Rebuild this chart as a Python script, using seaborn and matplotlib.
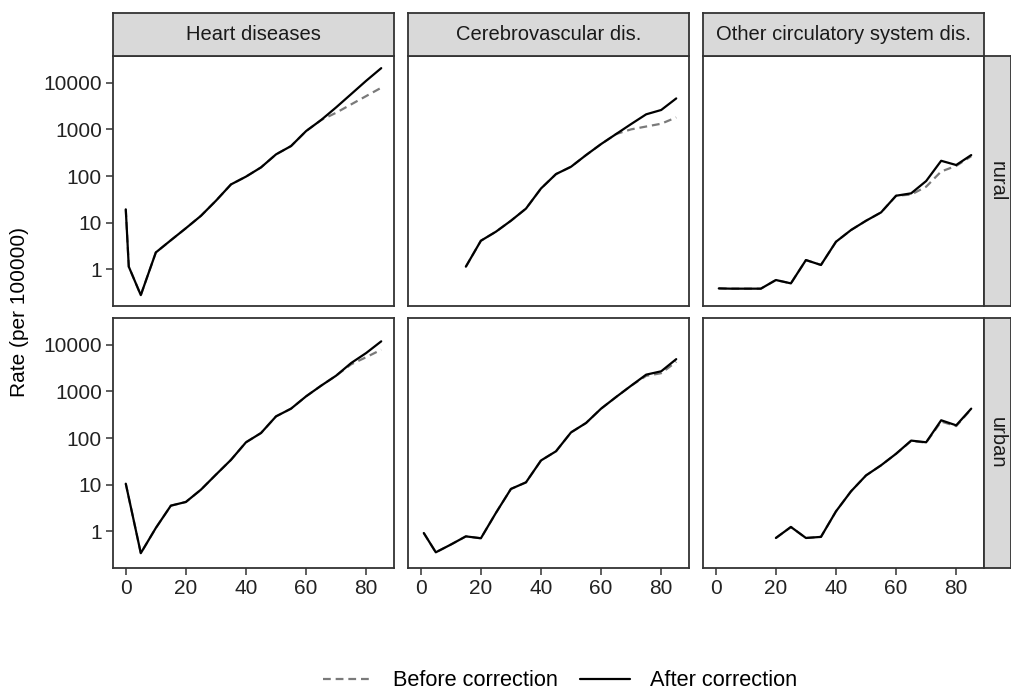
import numpy as np
import pandas as pd
import matplotlib
matplotlib.use("Agg")
import matplotlib.pyplot as plt
import seaborn as sns
from matplotlib.lines import Line2D

sns.set_theme(style="white")
plt.rcParams["font.family"] = ["Liberation Sans", "DejaVu Sans"]

causes = ["Heart diseases", "Cerebrovascular dis.", "Other circulatory system dis."]
areas = ["rural", "urban"]
types = ["Before correction", "After correction"]

# ---- data (rate per 100000) ----
heart_rural_age = [0, 1, 5, 10, 15, 20, 25, 30, 35, 40, 45, 50, 55, 60, 65, 70, 75, 80, 85]
heart_rural_after = [19.3, 1.14, 0.28, 2.3, 4.2, 7.6, 14, 29.5, 66, 97, 153, 291, 439, 919, 1585, 2960, 5700, 11000, 20500]
heart_rural_before = [19.3, 1.14, 0.28, 2.3, 4.2, 7.6, 14, 29.5, 66, 97, 153, 291, 439, 919, 1585, 2270, 3430, 5170, 7800]

heart_urban_age = [0, 5, 10, 15, 20, 25, 30, 35, 40, 45, 50, 55, 60, 65, 70, 75, 80, 85]
heart_urban_after = [10.5, 0.34, 1.18, 3.55, 4.26, 7.8, 16.4, 34, 81, 128, 291, 426, 782, 1323, 2170, 4050, 6640, 11800]
heart_urban_before = [10.5, 0.34, 1.18, 3.55, 4.26, 7.8, 16.4, 34, 81, 128, 291, 426, 782, 1323, 2170, 3800, 5400, 7800]

cere_rural_age = [15, 20, 25, 30, 35, 40, 45, 50, 55, 60, 65, 70, 75, 80, 85]
cere_rural_after = [1.14, 4.1, 6.4, 11, 20, 54, 110, 158, 281, 484, 794, 1300, 2100, 2600, 4600]
cere_rural_before = [1.14, 4.1, 6.4, 11, 20, 54, 110, 158, 281, 484, 794, 1000, 1150, 1320, 1800]

cere_urban_age = [1, 5, 10, 15, 20, 25, 30, 35, 40, 45, 50, 55, 60, 65, 70, 75, 80, 85]
cere_urban_after = [0.92, 0.355, 0.52, 0.78, 0.71, 2.48, 8.1, 11.2, 33, 52, 132, 210, 426, 757, 1323, 2280, 2690, 4900]
cere_urban_before = [0.92, 0.355, 0.52, 0.78, 0.71, 2.48, 8.1, 11.2, 33, 52, 132, 210, 426, 757, 1323, 2150, 2450, 4300]

other_rural_age = [1, 5, 10, 15, 20, 25, 30, 35, 40, 45, 50, 55, 60, 65, 70, 75, 80, 85]
other_rural_after = [0.39, 0.385, 0.385, 0.385, 0.59, 0.5, 1.58, 1.24, 3.9, 6.95, 11, 16.6, 37.8, 42.5, 78, 212, 172, 281]
other_rural_before = [0.39, 0.385, 0.385, 0.385, 0.59, 0.5, 1.58, 1.24, 3.9, 6.95, 11, 16.6, 37.8, 40, 59, 125, 165, 265]

other_urban_age = [20, 25, 30, 35, 40, 45, 50, 55, 60, 65, 70, 75, 80, 85]
other_urban_after = [0.72, 1.24, 0.72, 0.76, 2.68, 7.2, 15.8, 26, 46, 88, 81, 240, 187, 426]
other_urban_before = [0.72, 1.24, 0.72, 0.76, 2.68, 7.2, 15.8, 26, 46, 86, 80, 225, 180, 415]

x_ticks = [0, 20, 40, 60, 80]
y_ticks = [1, 10, 100, 1000, 10000]
y_tick_labels = ["1", "10", "100", "1000", "10000"]

series = {
    ("Heart diseases", "rural"): (heart_rural_age, heart_rural_before, heart_rural_after),
    ("Heart diseases", "urban"): (heart_urban_age, heart_urban_before, heart_urban_after),
    ("Cerebrovascular dis.", "rural"): (cere_rural_age, cere_rural_before, cere_rural_after),
    ("Cerebrovascular dis.", "urban"): (cere_urban_age, cere_urban_before, cere_urban_after),
    ("Other circulatory system dis.", "rural"): (other_rural_age, other_rural_before, other_rural_after),
    ("Other circulatory system dis.", "urban"): (other_urban_age, other_urban_before, other_urban_after),
}

rows = []
for (cause, area), (ages, before, after) in series.items():
    for a, b in zip(ages, before):
        rows.append((cause, area, "Before correction", a, b))
    for a, v in zip(ages, after):
        rows.append((cause, area, "After correction", a, v))
df = pd.DataFrame(rows, columns=["cause", "area", "type", "age", "rate"])

# ---- layout ----
W, H = 1011, 691
fig = plt.figure(figsize=(W / 100, H / 100), dpi=100)

def box(x0, y0, x1, y1):
    return [x0 / W, 1 - y1 / H, (x1 - x0) / W, (y1 - y0) / H]

col_x = [113, 408, 703]
pw = 281
row_y = [(56, 306), (318, 568)]
border = "#333333"
txt = "#222222"
palette = {"Before correction": "#7a7a7a", "After correction": "black"}
dashes = {"Before correction": (3.5, 2.2), "After correction": ""}

for ri, area in enumerate(areas):
    for ci, cause in enumerate(causes):
        ax = fig.add_axes(box(col_x[ci], row_y[ri][0], col_x[ci] + pw, row_y[ri][1]))
        sub = df[(df.cause == cause) & (df.area == area)]
        sns.lineplot(data=sub, x="age", y="rate", hue="type", style="type",
                     hue_order=types, style_order=types, palette=palette,
                     dashes=dashes, linewidth=1.6, legend=False, ax=ax)
        ax.set_yscale("log")
        ax.set_ylim(10 ** -0.786, 10 ** 4.572)
        ax.set_xlim(-4.25, 89.25)
        ax.set_xlabel("")
        ax.set_ylabel("")
        ax.set_facecolor("white")
        ax.grid(False)
        for s in ax.spines.values():
            s.set_color(border)
            s.set_linewidth(1.3)
        ax.minorticks_off()
        ax.set_yticks(y_ticks)
        ax.set_xticks(x_ticks)
        ax.tick_params(axis="both", which="major", length=5, width=1.1, color=border,
                       labelsize=15, labelcolor=txt, pad=3, direction="out")
        ax.tick_params(axis="y", left=(ci == 0), labelleft=(ci == 0))
        ax.tick_params(axis="x", bottom=(ri == 1), labelbottom=(ri == 1))
        if ci == 0:
            ax.set_yticklabels(y_tick_labels)
        if ri == 1:
            ax.set_xticklabels([str(t) for t in x_ticks])

# top strips
for ci, cause in enumerate(causes):
    sax = fig.add_axes(box(col_x[ci], 13, col_x[ci] + pw, 56))
    sax.set_facecolor("#d9d9d9")
    sax.set_xticks([]); sax.set_yticks([])
    for s in sax.spines.values():
        s.set_color(border); s.set_linewidth(1.3)
    sax.text(0.5, 0.5, cause, ha="center", va="center", fontsize=14.5, color="#1a1a1a",
             transform=sax.transAxes)

# right strips
for ri, area in enumerate(areas):
    sax = fig.add_axes(box(984, row_y[ri][0], 1011, row_y[ri][1]))
    sax.set_facecolor("#d9d9d9")
    sax.set_xticks([]); sax.set_yticks([])
    for s in sax.spines.values():
        s.set_color(border); s.set_linewidth(1.3)
    sax.text(0.5, 0.5, area, ha="center", va="center", fontsize=14.5, color="#1a1a1a",
             rotation=-90, transform=sax.transAxes)

fig.text(20 / W, 1 - 312 / H, "Rate (per 100000)", rotation=90, ha="center", va="center",
         fontsize=15, color="black")

handles = [Line2D([0], [0], color=palette["Before correction"], linewidth=1.6,
                  dashes=dashes["Before correction"]),
           Line2D([0], [0], color="black", linewidth=1.6)]
fig.legend(handles, types, loc="center", bbox_to_anchor=(560 / W, 1 - 681 / H), ncol=2,
           frameon=False, fontsize=15.7, handlelength=2.3, columnspacing=1.0, handletextpad=0.9,
           labelcolor="black")

fig.savefig("out.png", dpi=100)
